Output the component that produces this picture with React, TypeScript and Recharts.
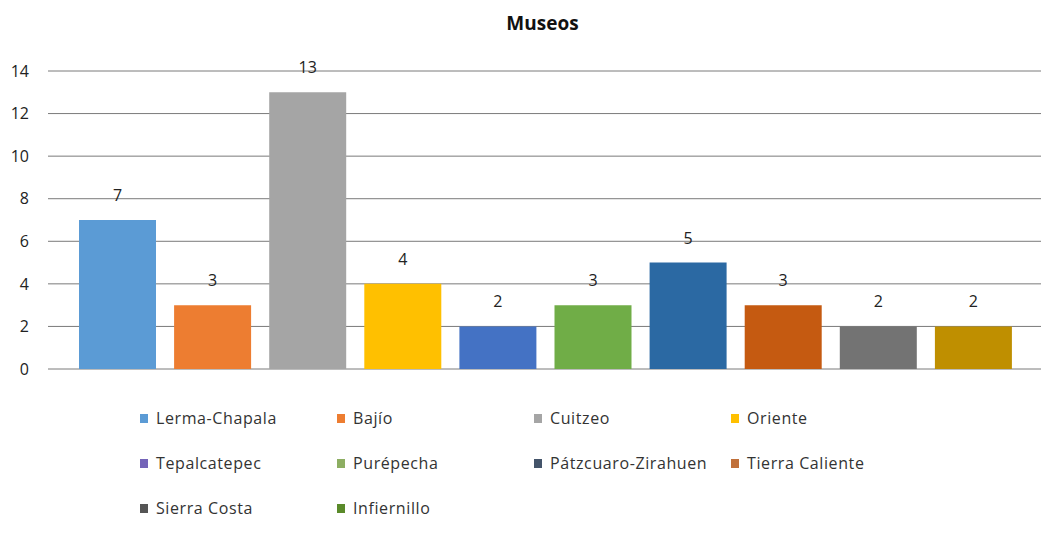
import { BarChart, Bar, XAxis, YAxis, CartesianGrid, LabelList, Cell } from 'recharts'

// Regiones y número de museos
const regions = [
  'Lerma-Chapala', 'Bajío', 'Cuitzeo', 'Oriente', 'Tepalcatepec',
  'Purépecha', 'Pátzcuaro-Zirahuen', 'Tierra Caliente', 'Sierra Costa', 'Infiernillo',
]
const museums = [7, 3, 13, 4, 2, 3, 5, 3, 2, 2]
const yTicks = [0, 2, 4, 6, 8, 10, 12, 14]

// bar fills as drawn; legend swatches differ slightly in the source picture
const barColors = [
  '#5B9BD5', '#ED7D31', '#A5A5A5', '#FFC000', '#4472C4',
  '#70AD47', '#2B69A3', '#C55A11', '#737373', '#BF8F00',
]
const legendColors = [
  '#5B9BD5', '#ED7D31', '#A5A5A5', '#FFC000', '#7464B8',
  '#8DAE62', '#44546A', '#C0703A', '#555555', '#5A8A2A',
]

const FONT = "'Open Sans', 'Liberation Sans', sans-serif"

const data = regions.map((name, i) => ({ name, value: museums[i] }))

function ChartLegend() {
  return (
    <div style={{
      position: 'absolute', left: 140, top: 406, display: 'grid',
      gridTemplateColumns: 'repeat(4, 197px)', rowGap: 21,
      fontFamily: FONT, fontSize: 16, letterSpacing: 0.6, color: '#333',
    }}>
      {regions.map((r, i) => (
        <div key={r} style={{ display: 'flex', alignItems: 'center', height: 24, whiteSpace: 'nowrap' }}>
          <span style={{ width: 8, height: 9, background: legendColors[i], marginRight: 8, display: 'inline-block' }} />
          {r}
        </div>
      ))}
    </div>
  )
}

export default function App() {
  return (
    <div style={{ position: 'fixed', top: 0, left: 0, width: 1045, height: 533, background: '#fff' }}>
      <div style={{ position: 'absolute', top: 10, width: 1085, textAlign: 'center', fontFamily: FONT, fontWeight: 700, fontSize: 19, color: '#111' }}>
        Museos
      </div>
      <BarChart
        width={1045}
        height={533}
        data={data}
        margin={{ top: 71, right: 4, left: 0, bottom: 164 }}
        barCategoryGap={9}
      >
        <CartesianGrid vertical={false} stroke="#7a7a7a" />
        <XAxis dataKey="name" hide padding={{ left: 22, right: 20 }} />
        <YAxis
          domain={[0, 14]}
          ticks={yTicks}
          interval={0}
          width={48}
          axisLine={false}
          tickLine={false}
          tickSize={0}
          tickMargin={19}
          tick={{ fontSize: 16, fill: '#222', fontFamily: FONT }}
        />
        <Bar dataKey="value" isAnimationActive={false}>
          {data.map((_, i) => (
            <Cell key={i} fill={barColors[i]} />
          ))}
          <LabelList dataKey="value" position="top" offset={19} style={{ fontSize: 16, fill: '#222', fontFamily: FONT }} />
        </Bar>
      </BarChart>
      <ChartLegend />
    </div>
  )
}
